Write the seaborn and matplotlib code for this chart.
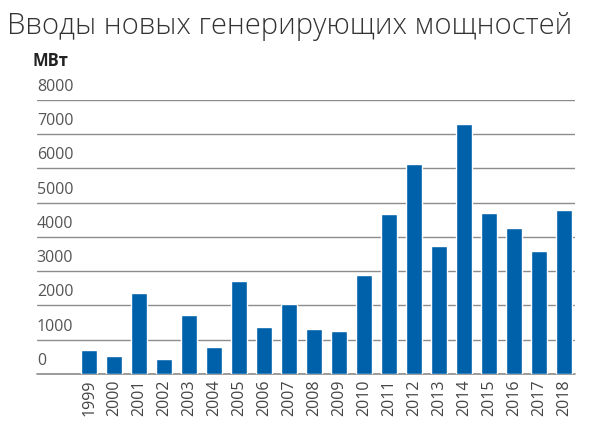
import matplotlib
matplotlib.use("Agg")
import matplotlib.pyplot as plt
import matplotlib.transforms as mtransforms
import seaborn as sns
import pandas as pd

# Вводы новых генерирующих мощностей, МВт
years = [str(y) for y in range(1999, 2019)]
values = [685, 520, 2365, 445, 1720, 780, 2720, 1360, 2030, 1300,
          1245, 2875, 4670, 6120, 3725, 7305, 4700, 4265, 3590, 4790]
yticks = [0, 1000, 2000, 3000, 4000, 5000, 6000, 7000, 8000]

df = pd.DataFrame({"year": years, "mw": values})

sns.set_theme(style="white")
plt.rcParams["font.family"] = ["Open Sans", "DejaVu Sans"]

fig = plt.figure(figsize=(5.93, 4.39), dpi=100)
ax = fig.add_axes([0.062, 0.146, 0.908, 0.624])

sns.barplot(data=df, x="year", y="mw", order=years, color="#0061ab",
            width=0.66, saturation=1, ax=ax)

ax.set_xlim(-2.1, 19.45)
ax.set_ylim(0, 8000)
ax.set_yticks(yticks)
ax.yaxis.grid(True, color="#8c8c8c", linewidth=1)
ax.axhline(0, color="#8c8c8c", linewidth=1.2, clip_on=False, zorder=0.5)
ax.set_axisbelow(True)
ax.set_yticklabels([])
ax.tick_params(axis="y", length=0)
ax.tick_params(axis="x", length=0, pad=3, labelrotation=90, labelsize=11.5,
               labelcolor="#444444")
for s in ax.spines.values():
    s.set_visible(False)
ax.set_xlabel("")
ax.set_ylabel("")

trans = mtransforms.blended_transform_factory(ax.transAxes, ax.transData)
for t in yticks:
    ax.text(0.0, t + 180, str(t), transform=trans, ha="left", va="bottom",
            fontsize=11.5, color="#555555")

fig.text(0.012, 0.94, "Вводы новых генерирующих мощностей", fontsize=21,
         fontweight="light", color="#333333", ha="left", va="center")
fig.text(0.055, 0.862, "МВт", fontsize=12, fontweight="bold",
         color="#222222", ha="left", va="center")

fig.savefig("out.png", dpi=100)
